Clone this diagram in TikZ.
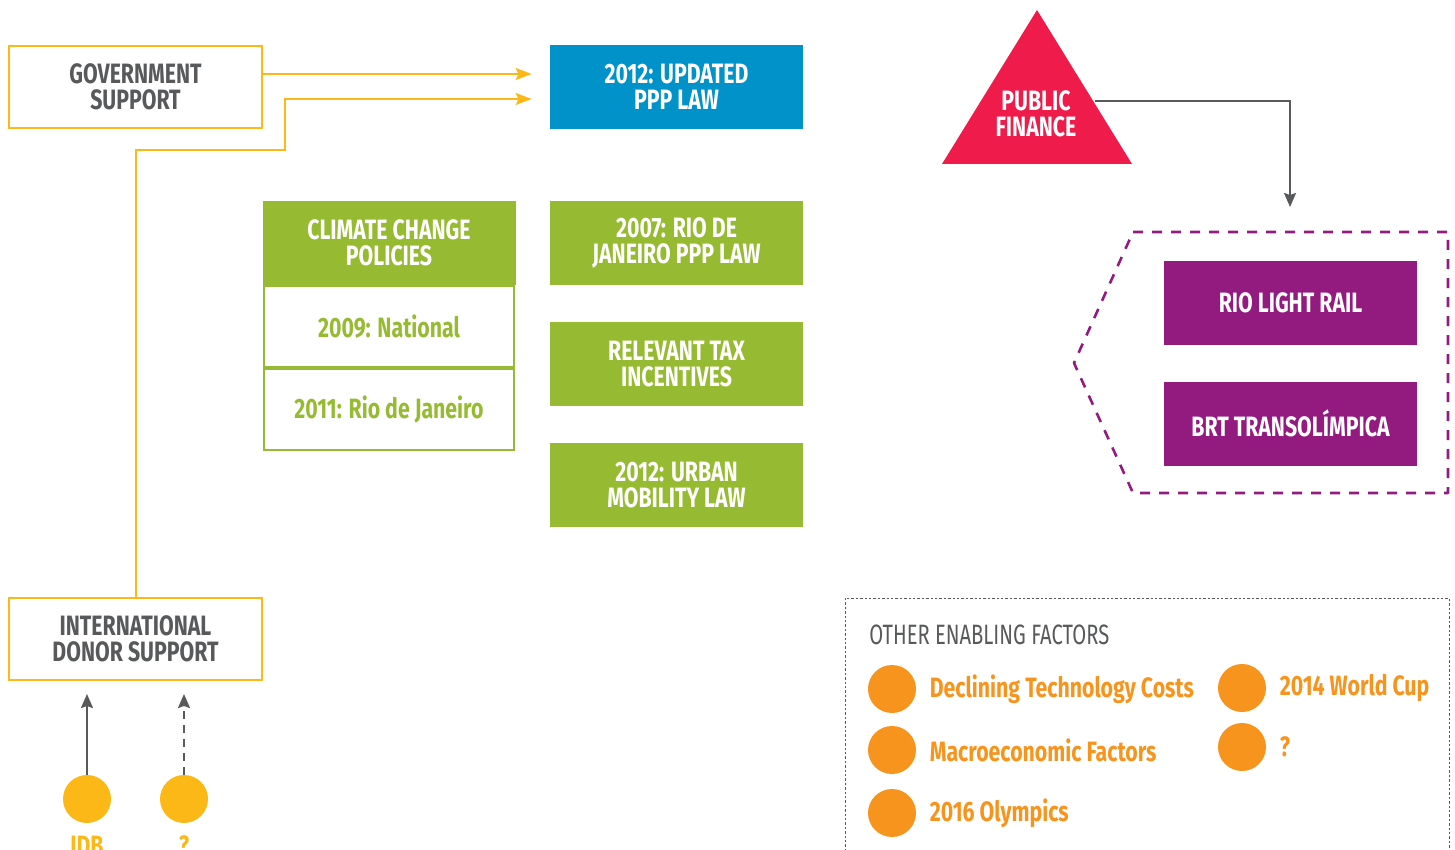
\documentclass[tikz,border=0pt]{standalone}
\usepackage{fontspec}
\setmainfont[FakeStretch=0.76]{Fira Sans}
\newfontfamily\headfont[FakeStretch=0.72]{Fira Sans}
\usetikzlibrary{arrows.meta, positioning}

\definecolor{gold}{HTML}{FBB817}
\definecolor{ink}{HTML}{58595B}
\definecolor{pppblue}{HTML}{0092C8}
\definecolor{leaf}{HTML}{96BB32}
\definecolor{crimson}{HTML}{EE1B4B}
\definecolor{plum}{HTML}{931B80}
\definecolor{amber}{HTML}{F7941D}

\tikzstyle{every node}=[font=\fontsize{14}{13}\selectfont\bfseries, align=center, inner sep=0pt]
\tikzstyle{support}=[draw=gold, line width=1pt, fill=white, text=ink, minimum width=126.5pt, minimum height=41pt]
\tikzstyle{lawbox}=[fill=leaf, text=white, minimum width=126.5pt, minimum height=42pt]
\tikzstyle{policy}=[draw=leaf, line width=1pt, text=leaf, minimum width=125pt, minimum height=40.5pt]
\tikzstyle{project}=[fill=plum, text=white, minimum width=126.5pt, minimum height=42pt]
\tikzstyle{dot}=[circle, minimum size=24pt]
\tikzstyle{factor}=[text=amber, anchor=west]
\tikzstyle{goldarrow}=[gold, line width=1pt, -{Stealth[length=8pt, width=6pt, inset=1.5pt]}]
\tikzstyle{grayarrow}=[ink, line width=1pt, -{Stealth[length=7pt, width=6pt, inset=1pt]}]

\begin{document}
\begin{tikzpicture}[x=0.5pt, y=-0.5pt]
	\useasboundingbox (0,0) rectangle (1455,850);
	
	% support boxes
	\node[support] (gov) at (135.5,87) {GOVERNMENT\\SUPPORT};
	\node[support] (donor) at (135.5,639) {INTERNATIONAL\\DONOR SUPPORT};
	
	% laws
	\node[lawbox, fill=pppblue] (ppp) at (676.5,87) {2012: UPDATED\\PPP LAW};
	\node[lawbox] (state) at (676.5,243) {2007: RIO DE\\JANEIRO PPP LAW};
	\node[lawbox, below=18pt of state] (tax) {RELEVANT TAX\\INCENTIVES};
	\node[lawbox, below=18pt of tax] (urban) {2012: URBAN\\MOBILITY LAW};
	
	% climate policies
	\node[lawbox] (climate) at (389,243) {CLIMATE CHANGE\\POLICIES};
	\node[policy, below=0pt of climate] (natl) {2009: National};
	\node[policy, below=0pt of natl] (rio) {2011: Rio de Janeiro};
	
	\draw[goldarrow, shorten >=9pt] ([yshift=6.5pt]gov.east) -- ([yshift=6.5pt]ppp.west);
	\draw[goldarrow, shorten >=9pt] (donor.north) |- (285,150) |- ([yshift=-6pt]ppp.west);
	
	% donors
	\node[dot, fill=gold] (idb) at (87,799) {};
	\node[dot, fill=gold] (unknown) at (184,799) {};
	\node[text=gold, below=6pt of idb] (idblabel) {IDB};
	\node[text=gold, below=6pt of unknown] (unknownlabel) {?};
	\draw[grayarrow, shorten >=6.5pt] (idb.north) -- (idb |- donor.south);
	\draw[grayarrow, dashed, dash pattern=on 4pt off 3pt, shorten >=6.5pt] (unknown.north) -- (unknown |- donor.south);
	
	% public finance
	\fill[crimson] (1037,10) -- (1132,164) -- (942,164) -- cycle;
	\node[white] (pf) at (1036,114) {PUBLIC\\FINANCE};
	\coordinate (pfside) at (1095,101);
	\coordinate (hub) at (1290,207);
	\draw[grayarrow] (pfside) -| (hub);
	
	% projects
	\draw[plum, line width=1.3pt, dash pattern=on 5pt off 4.5pt, line join=round] (1133,232) -- (1448,232) -- (1448,493) -- (1133,493) -- (1074,363) -- cycle;
	\node[project] (rail) at (1290.5,303) {RIO LIGHT RAIL};
	\node[project, below=18pt of rail] (brt) {BRT TRANSOLÍMPICA};
	
	% other enabling factors
	\draw[ink, line width=0.5pt, dash pattern=on 1.2pt off 1pt] (845,860) -- (845,598) -- (1449,598) -- (1449,860);
	\node[anchor=west, text=ink, font=\fontsize{14}{14}\selectfont\headfont] (other) at (869,635) {OTHER ENABLING FACTORS};
	
	\node[dot, fill=amber] (f1) at (892,689) {};
	\node[dot, fill=amber] (f2) at (892,750) {};
	\node[dot, fill=amber] (f3) at (892,813) {};
	\node[dot, fill=amber] (f4) at (1242,688) {};
	\node[dot, fill=amber] (f5) at (1242,747) {};
	\node[factor, right=6.5pt of f1] (f1label) {Declining Technology Costs};
	\node[factor, right=6.5pt of f2] (f2label) {Macroeconomic Factors};
	\node[factor, right=6.5pt of f3] (f3label) {2016 Olympics};
	\node[factor, right=6.5pt of f4] (f4label) {2014 World Cup};
	\node[factor, right=6.5pt of f5] (f5label) {?};
\end{tikzpicture}
\end{document}
